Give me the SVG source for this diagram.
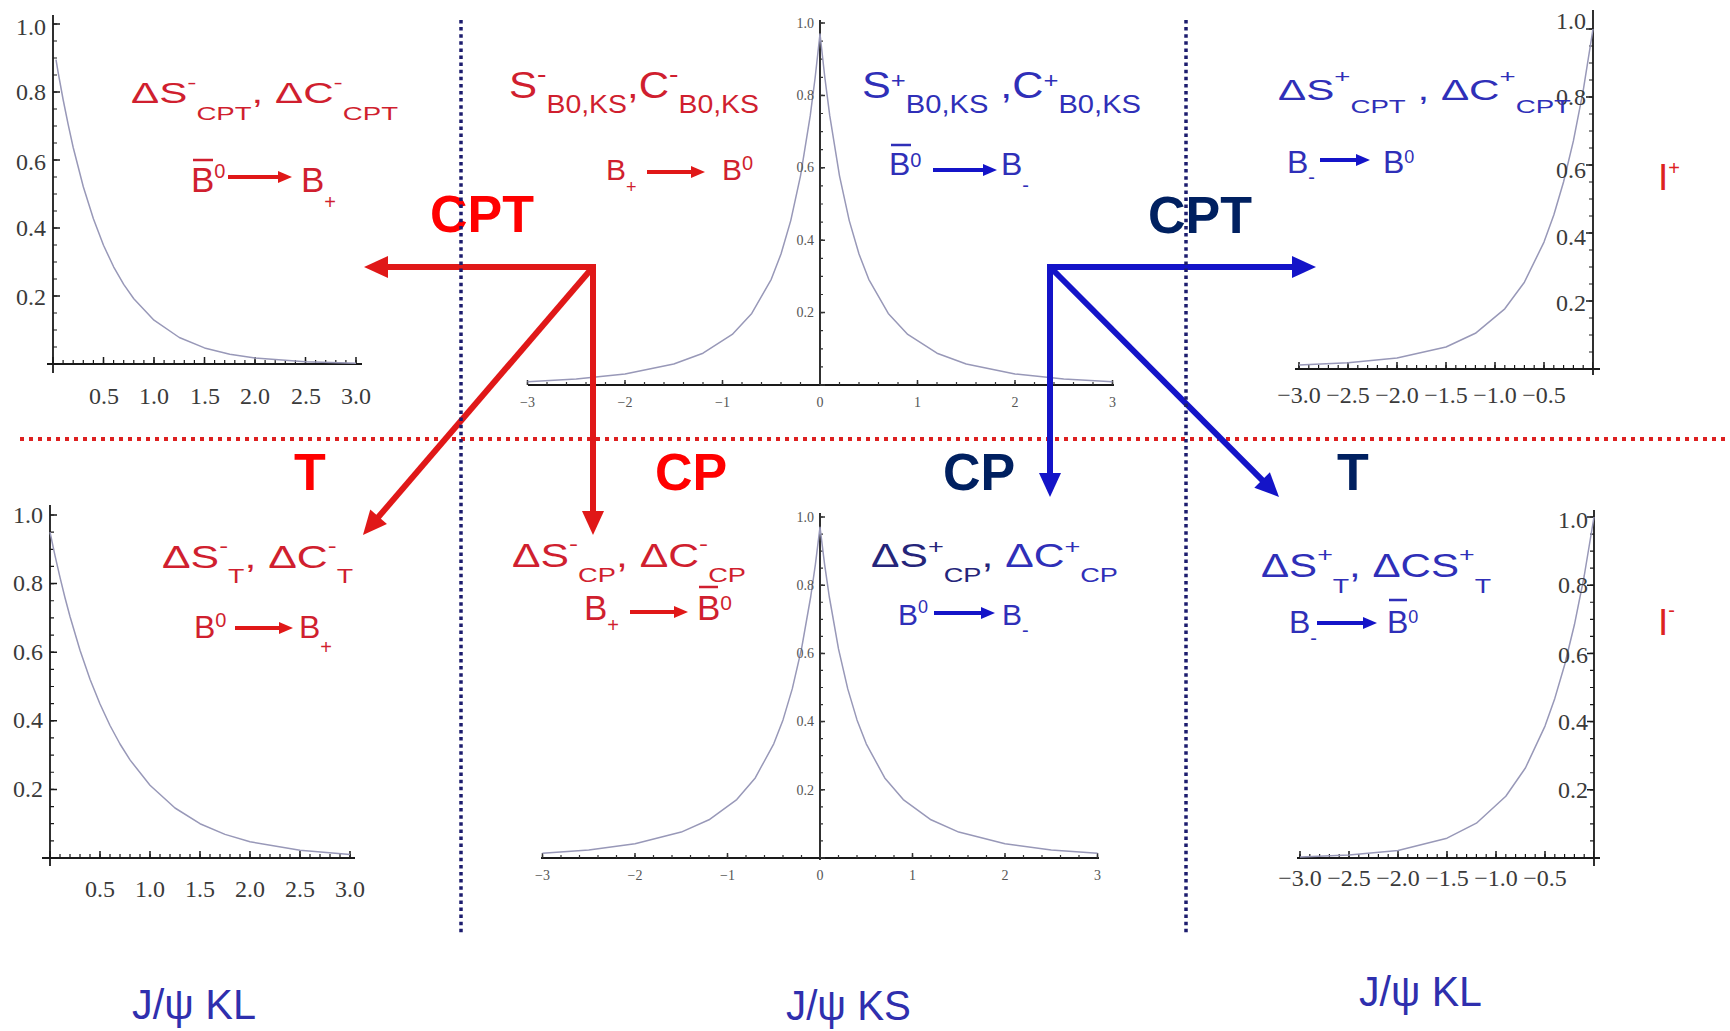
<svg xmlns="http://www.w3.org/2000/svg" width="1730" height="1031" viewBox="0 0 1730 1031">
<defs>
<style>
.ax{stroke:#1a1a1a;stroke-width:1.8;fill:none}
.mt{stroke:#1a1a1a;stroke-width:4;fill:none}
.Mt{stroke:#1a1a1a;stroke-width:7;fill:none}
.mts{stroke:#333;stroke-width:3;fill:none}
.Mts{stroke:#333;stroke-width:5;fill:none}
.cv{stroke:#9898b8;stroke-width:1.5;fill:none;stroke-linejoin:round}
.n{font-family:"Liberation Serif","Times New Roman",serif;font-size:24px;fill:#3a3a3a}
.ns{font-family:"Liberation Serif","Times New Roman",serif;font-size:14px;fill:#555}
.r{text-anchor:end}
.m{text-anchor:middle}
.tx{font-family:"Liberation Sans",Arial,sans-serif}
.red{fill:#d01f2f}
.blu{fill:#2f2fb8}
.nav{fill:#25257a}
.olR{stroke:#d01f2f;stroke-width:2.5}
.olB{stroke:#2f2fb8;stroke-width:2.5}
.big{font-family:"Liberation Sans",Arial,sans-serif;font-weight:bold;font-size:52px}
.bR{fill:#ff0000}
.bN{fill:#002060}
.jp{font-family:"Liberation Sans",Arial,sans-serif;font-size:43px;fill:#2f2fae}
.arR{stroke:#e01818;stroke-width:6;fill:none}
.arB{stroke:#1414c8;stroke-width:6;fill:none}
.saR{stroke:#e01818;stroke-width:4;fill:none}
.saB{stroke:#1414c8;stroke-width:4;fill:none}
.vd{stroke:#1c1c6e;stroke-width:3.5;stroke-dasharray:3.5 3.6;fill:none}
.hd{stroke:#dd2020;stroke-width:4;stroke-dasharray:4 5;fill:none}
</style>
<marker id="ahR" markerUnits="userSpaceOnUse" markerWidth="26" markerHeight="24" viewBox="0 -12 26 24" refX="2" refY="0" orient="auto" overflow="visible"><path d="M0,-11L24,0L0,11z" fill="#e01818"/></marker>
<marker id="ahB" markerUnits="userSpaceOnUse" markerWidth="26" markerHeight="24" viewBox="0 -12 26 24" refX="2" refY="0" orient="auto" overflow="visible"><path d="M0,-11L24,0L0,11z" fill="#1414c8"/></marker>
<marker id="asR" markerUnits="userSpaceOnUse" markerWidth="16" markerHeight="14" viewBox="0 -7 16 14" refX="1" refY="0" orient="auto" overflow="visible"><path d="M0,-6L14,0L0,6z" fill="#e01818"/></marker>
<marker id="asB" markerUnits="userSpaceOnUse" markerWidth="16" markerHeight="14" viewBox="0 -7 16 14" refX="1" refY="0" orient="auto" overflow="visible"><path d="M0,-6L14,0L0,6z" fill="#1414c8"/></marker>
</defs>
<rect width="1730" height="1031" fill="#ffffff"/>

<g id="plot-top-left">
<path class="ax" d="M53,15V373M47,364H362"/>
<path class="mt" d="M52.4,362H357" stroke-dasharray="1.2 8.9"/>
<path class="Mt" d="M52.25,360.5H357" stroke-dasharray="1.5 49"/>
<path class="mt" d="M55,364.6V20" stroke-dasharray="1.2 15.8"/>
<path class="Mt" d="M56.5,364.75V20" stroke-dasharray="1.5 66.5"/>
<path class="cv" d="M56,59.7L58,71.6L63.1,99.5L68.2,124.7L73.2,147.5L83.3,186.8L93.4,218.8L103.5,245.3L113.6,266.8L123.7,284.4L133.8,298.7L154,320.2L179.3,337.5L204.5,347.9L229.8,354.2L255,358.1L305.5,361.8L356,363.2"/>
<text class="n r" x="46" y="35">1.0</text><text class="n r" x="46" y="100">0.8</text><text class="n r" x="46" y="170">0.6</text><text class="n r" x="46" y="236">0.4</text><text class="n r" x="46" y="305">0.2</text>
<text class="n m" x="104" y="404">0.5</text><text class="n m" x="154" y="404">1.0</text><text class="n m" x="205" y="404">1.5</text><text class="n m" x="255" y="404">2.0</text><text class="n m" x="306" y="404">2.5</text><text class="n m" x="356" y="404">3.0</text>
</g>

<g id="plot-top-center">
<path class="ax" d="M820,20V386M528,385H1114"/>
<path class="mts" d="M526.9,383.5H1114" stroke-dasharray="1.2 18.3"/>
<path class="Mts" d="M526.75,382.5H1114" stroke-dasharray="1.5 96"/>
<path class="mts" d="M821.5,385.6V20" stroke-dasharray="1.2 16.9"/>
<path class="Mts" d="M822.5,385.75V20" stroke-dasharray="1.5 70.9"/>
<path class="cv" d="M527.5,381.7L576.25,379.1L625,374L673.75,364L703,353.2L732.25,334.4L751.75,313.4L771.25,279.3L781,254L790.75,220.6L800.5,175.8L810.25,115.7L815.1,78L820,33.9L824.9,78L829.75,115.7L839.5,175.8L849.25,220.6L859,254L868.75,279.3L888.25,313.4L907.75,334.4L937,353.2L966.25,364L1015,374L1063.75,379.1L1112.5,381.7"/>
<text class="ns r" x="814" y="28">1.0</text><text class="ns r" x="814" y="100">0.8</text><text class="ns r" x="814" y="172">0.6</text><text class="ns r" x="814" y="245">0.4</text><text class="ns r" x="814" y="317">0.2</text>
<text class="ns m" x="527.5" y="407">−3</text><text class="ns m" x="625" y="407">−2</text><text class="ns m" x="722.5" y="407">−1</text><text class="ns m" x="820" y="407">0</text><text class="ns m" x="917.5" y="407">1</text><text class="ns m" x="1015" y="407">2</text><text class="ns m" x="1112.5" y="407">3</text>
</g>

<g id="plot-top-right">
<path class="ax" d="M1593,10V375M1295,369H1600"/>
<path class="mt" d="M1298.4,367H1593" stroke-dasharray="1.2 8.6"/>
<path class="Mt" d="M1298.25,365.5H1593" stroke-dasharray="1.5 47.5"/>
<path class="mt" d="M1591,369.6V25" stroke-dasharray="1.2 15.8"/>
<path class="Mt" d="M1589.5,369.75V25" stroke-dasharray="1.5 66.5"/>
<path class="cv" d="M1299,365.1L1348,362.8L1397,358.1L1446,347L1475.4,333.3L1504.8,308.8L1524.4,282.2L1544,242.1L1553.8,215L1563.6,181.7L1573.4,140.9L1583.2,90.6L1593,29"/>
<text class="n r" x="1586" y="29">1.0</text><text class="n r" x="1586" y="105">0.8</text><text class="n r" x="1586" y="178">0.6</text><text class="n r" x="1586" y="245">0.4</text><text class="n r" x="1586" y="311">0.2</text>
<text class="n m" x="1299" y="403">−3.0</text><text class="n m" x="1348" y="403">−2.5</text><text class="n m" x="1397" y="403">−2.0</text><text class="n m" x="1446" y="403">−1.5</text><text class="n m" x="1495" y="403">−1.0</text><text class="n m" x="1544" y="403">−0.5</text>
</g>

<g id="plot-bottom-left">
<path class="ax" d="M50,505V866M42,858H355"/>
<path class="mt" d="M49.4,856H352" stroke-dasharray="1.2 8.8"/>
<path class="Mt" d="M49.25,854.5H352" stroke-dasharray="1.5 48.5"/>
<path class="mt" d="M52,858.6V510" stroke-dasharray="1.2 15.95"/>
<path class="Mt" d="M53.5,858.75V510" stroke-dasharray="1.5 67.1"/>
<path class="cv" d="M50,532.1L55,555.7L60,577.4L65,597.7L70,616.5L80,650.2L90,679.2L100,704L110,725.5L120,744L130,759.9L150,785.3L175,808L200,823.7L225,834.4L250,841.8L300,850.3L350,854.4"/>
<text class="n r" x="43" y="523">1.0</text><text class="n r" x="43" y="591">0.8</text><text class="n r" x="43" y="660">0.6</text><text class="n r" x="43" y="728">0.4</text><text class="n r" x="43" y="797">0.2</text>
<text class="n m" x="100" y="897">0.5</text><text class="n m" x="150" y="897">1.0</text><text class="n m" x="200" y="897">1.5</text><text class="n m" x="250" y="897">2.0</text><text class="n m" x="300" y="897">2.5</text><text class="n m" x="350" y="897">3.0</text>
</g>

<g id="plot-bottom-center">
<path class="ax" d="M820,513V860M541,858H1099"/>
<path class="mts" d="M541.9,856.5H1099" stroke-dasharray="1.2 17.3"/>
<path class="Mts" d="M541.75,855.5H1099" stroke-dasharray="1.5 91"/>
<path class="mts" d="M821.5,858.6V515" stroke-dasharray="1.2 15.85"/>
<path class="Mts" d="M822.5,858.75V515" stroke-dasharray="1.5 66.7"/>
<path class="cv" d="M542.5,853.3L588.75,849.9L635,843.7L681.25,832.1L709,819.8L736.75,799.6L755.25,777.9L773.75,743.8L783,719.9L792.25,688.9L801.5,648.9L810.75,596.5L815.4,564.4L820,527.2L824.6,564.4L829.25,596.5L838.5,648.9L847.75,688.9L857,719.9L866.25,743.8L884.75,777.9L903.25,799.6L931,819.8L958.75,832.1L1005,843.7L1051.25,849.9L1097.5,853.3"/>
<text class="ns r" x="814" y="522">1.0</text><text class="ns r" x="814" y="590">0.8</text><text class="ns r" x="814" y="658">0.6</text><text class="ns r" x="814" y="726">0.4</text><text class="ns r" x="814" y="795">0.2</text>
<text class="ns m" x="542.5" y="880">−3</text><text class="ns m" x="635" y="880">−2</text><text class="ns m" x="727.5" y="880">−1</text><text class="ns m" x="820" y="880">0</text><text class="ns m" x="912.5" y="880">1</text><text class="ns m" x="1005" y="880">2</text><text class="ns m" x="1097.5" y="880">3</text>
</g>

<g id="plot-bottom-right">
<path class="ax" d="M1594,510V866M1297,858H1600"/>
<path class="mt" d="M1299.4,856H1594" stroke-dasharray="1.2 8.6"/>
<path class="Mt" d="M1299.25,854.5H1594" stroke-dasharray="1.5 47.5"/>
<path class="mt" d="M1592,858.6V515" stroke-dasharray="1.2 15.85"/>
<path class="Mt" d="M1590.5,858.75V515" stroke-dasharray="1.5 66.7"/>
<path class="cv" d="M1300,856.9L1349,855L1398,850.4L1447,838.2L1476.4,823.2L1505.8,796.3L1525.4,768L1545,726.1L1554.8,698.4L1564.6,665L1574.4,624.8L1584.2,576L1594,517"/>
<text class="n r" x="1588" y="528">1.0</text><text class="n r" x="1588" y="593">0.8</text><text class="n r" x="1588" y="663">0.6</text><text class="n r" x="1588" y="730">0.4</text><text class="n r" x="1588" y="798">0.2</text>
<text class="n m" x="1300" y="886">−3.0</text><text class="n m" x="1349" y="886">−2.5</text><text class="n m" x="1398" y="886">−2.0</text><text class="n m" x="1447" y="886">−1.5</text><text class="n m" x="1496" y="886">−1.0</text><text class="n m" x="1545" y="886">−0.5</text>
</g>

<g id="red-hline">
<path class="hd" d="M20,439H1730"/>
</g>

<g id="label-cpt-minus">
<text class="tx red" x="131" y="103" font-size="29" textLength="267" lengthAdjust="spacingAndGlyphs">ΔS<tspan font-size="19" dy="-14">-</tspan><tspan font-size="19" dy="31">CPT</tspan><tspan dy="-17">, ΔC</tspan><tspan font-size="19" dy="-14">-</tspan><tspan font-size="19" dy="31">CPT</tspan></text>
<text class="tx red" x="191" y="192" font-size="35">B<tspan font-size="20" dy="-14">0</tspan></text>
<line class="olR" x1="193" y1="160" x2="213" y2="160"/>
<line class="saR" x1="228" y1="177" x2="279" y2="177" marker-end="url(#asR)"/>
<text class="tx red" x="301" y="192" font-size="35">B<tspan font-size="20" dy="17">+</tspan></text>
</g>

<g id="label-ks-minus">
<text class="tx red" x="509" y="98" font-size="37" textLength="250" lengthAdjust="spacingAndGlyphs">S<tspan font-size="25" dy="-15">-</tspan><tspan font-size="25" dy="30">B0,KS</tspan><tspan dy="-15">,C</tspan><tspan font-size="25" dy="-15">-</tspan><tspan font-size="25" dy="30">B0,KS</tspan></text>
<text class="tx red" x="606" y="180" font-size="30">B<tspan font-size="18" dy="13">+</tspan></text>
<line class="saR" x1="647" y1="172" x2="692" y2="172" marker-end="url(#asR)"/>
<text class="tx red" x="722" y="180" font-size="30">B<tspan font-size="20" dy="-10">0</tspan></text>
</g>

<g id="label-ks-plus">
<text class="tx blu" x="862" y="98" font-size="37" textLength="279" lengthAdjust="spacingAndGlyphs">S<tspan font-size="22" dy="-10">+</tspan><tspan font-size="25" dy="25">B0,KS</tspan><tspan dy="-15"> ,C</tspan><tspan font-size="22" dy="-10">+</tspan><tspan font-size="25" dy="25">B0,KS</tspan></text>
<text class="tx blu" x="889" y="175" font-size="32">B<tspan font-size="20" dy="-8">0</tspan></text>
<line class="olB" x1="891" y1="145" x2="911" y2="145"/>
<line class="saB" x1="933" y1="170" x2="984" y2="170" marker-end="url(#asB)"/>
<text class="tx blu" x="1001" y="175" font-size="32">B<tspan font-size="20" dy="17">-</tspan></text>
</g>

<g id="label-cpt-plus">
<text class="tx blu" x="1278" y="100" font-size="29" textLength="293" lengthAdjust="spacingAndGlyphs">ΔS<tspan font-size="19" dy="-17">+</tspan><tspan font-size="19" dy="30">CPT</tspan><tspan dy="-13"> , ΔC</tspan><tspan font-size="19" dy="-17">+</tspan><tspan font-size="19" dy="30">CPT</tspan></text>
<text class="tx blu" x="1287" y="173" font-size="32">B<tspan font-size="20" dy="11">-</tspan></text>
<line class="saB" x1="1320" y1="160" x2="1357" y2="160" marker-end="url(#asB)"/>
<text class="tx blu" x="1383" y="173" font-size="32">B<tspan font-size="18" dy="-10">0</tspan></text>
</g>

<g id="label-t-minus">
<text class="tx red" x="162" y="568" font-size="32" textLength="191" lengthAdjust="spacingAndGlyphs">ΔS<tspan font-size="20" dy="-15">-</tspan><tspan font-size="20" dy="30">T</tspan><tspan dy="-15">, ΔC</tspan><tspan font-size="20" dy="-15">-</tspan><tspan font-size="20" dy="30">T</tspan></text>
<text class="tx red" x="194" y="638" font-size="32">B<tspan font-size="20" dy="-11">0</tspan></text>
<line class="saR" x1="235" y1="628" x2="280" y2="628" marker-end="url(#asR)"/>
<text class="tx red" x="299" y="638" font-size="32">B<tspan font-size="20" dy="16">+</tspan></text>
</g>

<g id="label-cp-minus">
<text class="tx red" x="512" y="567" font-size="33" textLength="234" lengthAdjust="spacingAndGlyphs">ΔS<tspan font-size="21" dy="-16">-</tspan><tspan font-size="21" dy="31">CP</tspan><tspan dy="-15">, ΔC</tspan><tspan font-size="21" dy="-16">-</tspan><tspan font-size="21" dy="31">CP</tspan></text>
<text class="tx red" x="584" y="620" font-size="35">B<tspan font-size="20" dy="12">+</tspan></text>
<line class="saR" x1="630" y1="612" x2="675" y2="612" marker-end="url(#asR)"/>
<text class="tx red" x="697" y="620" font-size="35">B<tspan font-size="21" dy="-10">0</tspan></text>
<line class="olR" x1="699" y1="587" x2="718" y2="587"/>
</g>

<g id="label-cp-plus">
<text class="tx blu" x="871" y="567" font-size="33" textLength="247" lengthAdjust="spacingAndGlyphs"><tspan class="nav">ΔS</tspan><tspan class="nav" font-size="21" dy="-13">+</tspan><tspan class="nav" font-size="21" dy="28">CP</tspan><tspan class="nav" dy="-15">,</tspan> ΔC<tspan font-size="21" dy="-13">+</tspan><tspan font-size="21" dy="28">CP</tspan></text>
<text class="tx blu" x="898" y="625" font-size="30">B<tspan font-size="18" dy="-12">0</tspan></text>
<line class="saB" x1="934" y1="613" x2="982" y2="613" marker-end="url(#asB)"/>
<text class="tx blu" x="1002" y="625" font-size="30">B<tspan font-size="20" dy="12">-</tspan></text>
</g>

<g id="label-t-plus">
<text class="tx blu" x="1261" y="577" font-size="33" textLength="230" lengthAdjust="spacingAndGlyphs">ΔS<tspan font-size="21" dy="-15">+</tspan><tspan font-size="21" dy="31">T</tspan><tspan dy="-16">, ΔCS</tspan><tspan font-size="21" dy="-15">+</tspan><tspan font-size="21" dy="31">T</tspan></text>
<text class="tx blu" x="1289" y="633" font-size="32">B<tspan font-size="20" dy="12">-</tspan></text>
<line class="saB" x1="1317" y1="623" x2="1364" y2="623" marker-end="url(#asB)"/>
<text class="tx blu" x="1387" y="633" font-size="32">B<tspan font-size="18" dy="-10">0</tspan></text>
<line class="olB" x1="1389" y1="600" x2="1407" y2="600"/>
</g>

<g id="label-l-plus"><text class="tx" fill="#dd2222" x="1658" y="190" font-size="37">I<tspan font-size="20" dy="-15">+</tspan></text></g>
<g id="label-l-minus"><text class="tx" fill="#dd2222" x="1658" y="635" font-size="37">I<tspan font-size="20" dy="-18">-</tspan></text></g>

<g id="op-labels">
<text class="big bR" x="430" y="232">CPT</text>
<text class="big bN" x="1148" y="233">CPT</text>
<text class="big bR" x="294" y="490">T</text>
<text class="big bR" x="655" y="490">CP</text>
<text class="big bN" x="943" y="490">CP</text>
<text class="big bN" x="1337" y="490">T</text>
</g>

<g id="connectors">
<path class="arR" d="M596,267H386" marker-end="url(#ahR)"/>
<path class="arR" d="M593,264V513" marker-end="url(#ahR)"/>
<path class="arR" d="M593,267L377.3,518.3" marker-end="url(#ahR)"/>
<path class="arB" d="M1047,267H1294" marker-end="url(#ahB)"/>
<path class="arB" d="M1050,264V475" marker-end="url(#ahB)"/>
<path class="arB" d="M1050,267L1263.5,481.4" marker-end="url(#ahB)"/>
</g>

<g id="bottom-labels">
<text class="jp" x="132" y="1019" textLength="124" lengthAdjust="spacingAndGlyphs">J/ψ KL</text>
<text class="jp" x="786" y="1020" textLength="125" lengthAdjust="spacingAndGlyphs">J/ψ KS</text>
<text class="jp" x="1359" y="1006" textLength="123" lengthAdjust="spacingAndGlyphs">J/ψ KL</text>
</g>

<g id="dividers">
<path class="vd" d="M461,20V933"/>
<path class="vd" d="M1186,20V933"/>
</g>
</svg>
